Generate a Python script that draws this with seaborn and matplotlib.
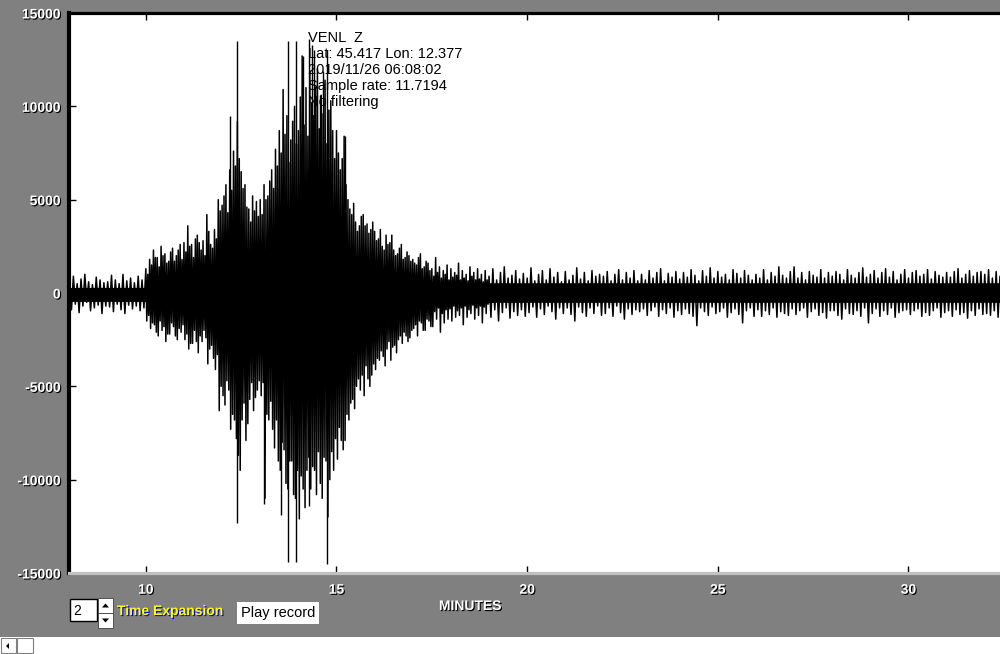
import numpy as np
import pandas as pd
import matplotlib
matplotlib.use("Agg")
import matplotlib.pyplot as plt
import matplotlib.patheffects as pe
from matplotlib.patches import Rectangle, Polygon
import seaborn as sns

# ---------------- data ----------------
station = "VENL  Z"
info_lines = ["Lat: 45.417 Lon: 12.377", "2019/11/26 06:08:02",
              "Sample rate: 11.7194", "No filtering"]

x_ticks = [10, 15, 20, 25, 30]
y_ticks = [-15000, -10000, -5000, 0, 5000, 10000, 15000]
y_tick_labels = ["-15000", "-10000", "-5000", "0", "5000", "10000", "15000"]

# dense core of the trace (minutes, counts)
core_t = [8.0, 9.95, 10.05, 10.5, 11.0, 11.5, 11.85, 12.0, 12.2, 12.45, 12.65, 13.0,
          13.4, 13.55, 13.8, 14.1, 14.4, 14.7, 14.95, 15.1, 15.4, 15.7, 16.0, 16.4,
          16.8, 17.2, 17.6, 18.0, 18.6, 19.2, 20.0, 32.5]
core_hi = [300, 300, 400, 600, 700, 800, 1200, 1800, 2200, 2400, 1700, 1600,
           2000, 3000, 3800, 4200, 4000, 3600, 2600, 2000, 1600, 1300, 1100, 900,
           750, 650, 600, 550, 550, 550, 550, 550]
core_lo = [-450, -450, -500, -700, -800, -900, -1300, -2000, -2500, -2700, -1900, -1800,
           -2200, -3500, -4500, -5000, -4700, -4200, -3000, -2300, -1800, -1500, -1200, -1000,
           -850, -700, -650, -600, -550, -500, -500, -500]

# upward / downward swings, one pair every 0.1 minute from 8.0 to 32.5
swing_up = [
    650, 900, 500, 750, 1000, 600, 450, 850, 700, 550,
    600, 950, 700, 500, 1000, 650, 800, 550, 900, 700,
    1300, 1800, 2300, 1900, 2500, 2100, 1700, 2400, 2000, 2600,
    2700, 3600, 2600, 2900, 2700, 2800, 4200, 2600, 3400, 5000,
    4700, 5800, 6600, 7600, 9200, 6500, 5800, 4500, 5200, 4900,
    5000, 5800, 5200, 6600, 7700, 8700, 10900, 9500, 8200, 10000,
    8700, 12700, 11000, 11900, 9500, 12000, 10600, 11400, 9800, 8700,
    8700, 6600, 8400, 5000, 4200, 3800, 3600, 4200, 3700, 3400,
    3300, 2900, 2500, 3100, 2700, 2300, 2100, 2600, 1900, 2000,
    1800, 1500, 2100, 1400, 1600, 1300, 1900, 1400, 1200, 1500,
    1300, 1100, 1600, 1200, 1000, 1400, 1100, 1300, 1000, 1200,
    900, 1300, 700, 1100, 1400, 800, 950, 1200, 750, 1050,
    800, 1350, 650, 1000, 1200, 700, 1300, 850, 1100, 600,
    1150, 700, 950, 1350, 750, 1100, 650, 1200, 900, 1000,
    900, 1150, 650, 1000, 1250, 700, 1100, 800, 1200, 650,
    1000, 700, 1200, 800, 1100, 1300, 650, 1050, 850, 1150,
    750, 1100, 850, 1250, 950, 650, 1200, 900, 1350, 800,
    1150, 850, 1000, 700, 1250, 1050, 800, 1200, 950, 700,
    1000, 800, 1250, 700, 1100, 900, 1400, 950, 800, 1150,
    1400, 800, 1100, 700, 1150, 950, 850, 1250, 800, 1100,
    900, 1150, 1000, 700, 1250, 950, 800, 1100, 1350, 850,
    1000, 1200, 800, 1100, 1300, 850, 1150, 700, 1000, 1250,
    800, 1100, 1200, 900, 1000, 1250, 750, 1150, 950, 850,
    1100, 850, 1150, 1300, 800, 1000, 1200, 900, 1100, 1150,
    1000, 1250, 800, 1150, 900, 1050]
swing_dn = [
    -900, -600, -1050, -700, -500, -950, -800, -650, -1100, -700,
    -750, -1000, -600, -900, -1100, -650, -850, -700, -950, -800,
    -1500, -1900, -1700, -2300, -2000, -2600, -2200, -1800, -2500, -2100,
    -2500, -3000, -2700, -2600, -2300, -2000, -3800, -2800, -4100, -6300,
    -5500, -4700, -7300, -6800, -8700, -6800, -7900, -5700, -6300, -5200,
    -5500, -11000, -6800, -7300, -6800, -9500, -8400, -10500, -9000, -11000,
    -12100, -10500, -9500, -10500, -9500, -8500, -11000, -9000, -10000, -9500,
    -8900, -7900, -7900, -6800, -5700, -5000, -5200, -5500, -4600, -4400,
    -4100, -3600, -3400, -3000, -3600, -2800, -2500, -2700, -2300, -2400,
    -1900, -2300, -1600, -2000, -1500, -1800, -1400, -2100, -1600, -1400,
    -1500, -1300, -1200, -1700, -1300, -1100, -1400, -1200, -1600, -1100,
    -1300, -900, -1500, -1050, -800, -1350, -1000, -1200, -900, -1250,
    -1050, -750, -1300, -850, -1150, -700, -1000, -1400, -800, -1100,
    -800, -1150, -1500, -750, -1050, -1250, -800, -1100, -700, -1200,
    -1100, -800, -1250, -700, -1050, -1400, -850, -1150, -900, -1000,
    -850, -1200, -950, -750, -1250, -900, -1100, -800, -1300, -950,
    -1150, -850, -1100, -1250, -1750, -800, -1000, -1200, -750, -1100,
    -1000, -800, -1300, -1050, -850, -1150, -1600, -950, -800, -1250,
    -900, -1250, -950, -1150, -800, -1300, -1000, -1100, -1200, -850,
    -1150, -950, -800, -1300, -1000, -850, -1200, -1050, -1350, -950,
    -950, -1200, -1400, -850, -1100, -1150, -950, -1250, -800, -1600,
    -1100, -850, -1250, -950, -1150, -800, -1300, -1050, -950, -900,
    -1150, -950, -850, -1250, -1050, -1200, -950, -800, -1300, -1050,
    -950, -1250, -900, -1150, -1050, -1350, -950, -1200, -850, -1150,
    -1100, -1200, -950, -1300, -1000, -1150]

# extra swings during the burst (10.0 - 18.9 min), half a step later
burst_up = [
    1000, 1500, 1900, 1400, 2000, 1600, 2200, 1700, 2300, 1800,
    2200, 2500, 1900, 3100, 2300, 2000, 3300, 2400, 2900, 4400,
    5200, 4300, 5500, 6800, 7200, 5600, 4600, 3800, 4400, 4100,
    4200, 5000, 6000, 5600, 6800, 7500, 8500, 7000, 9200, 8000,
    10500, 9000, 8400, 10200, 11000, 8800, 9600, 8000, 10300, 7200,
    7500, 7200, 5800, 4500, 4800, 3300, 4100, 3600, 3200, 3800,
    2800, 3400, 2300, 2600, 3100, 2000, 2400, 1800, 2200, 1700,
    1600, 1900, 1300, 1700, 1200, 900, 1100, 800, 1000, 700,
    850, 950, 700, 800, 650, 900, 700, 750, 600, 700]
burst_dn = [
    -1200, -1600, -2100, -1500, -1800, -2200, -1600, -2300, -1900, -1700,
    -2200, -2700, -2000, -3200, -2600, -2400, -3000, -3500, -3300, -5000,
    -6000, -5200, -6500, -7800, -9500, -5900, -7000, -4800, -5600, -4700,
    -4800, -6500, -5800, -8300, -9000, -8000, -10200, -9000, -10800, -9500,
    -9800, -11500, -8800, -9300, -10800, -10200, -8800, -12000, -8500, -7800,
    -7200, -8400, -6500, -5900, -6200, -4600, -4400, -3900, -5000, -3800,
    -3500, -3100, -3900, -2600, -2900, -3200, -2300, -2100, -2600, -2000,
    -1700, -1500, -2000, -1400, -1800, -1000, -800, -1100, -900, -850,
    -700, -950, -800, -700, -900, -650, -800, -700, -750, -600]

# the tallest individual spikes
spike_t = [12.22, 12.39, 12.39, 13.10, 13.54, 13.73, 13.73, 13.94, 13.94,
           14.12, 14.28, 14.28, 14.35, 14.42, 14.57, 14.65, 14.75, 14.75, 15.22]
spike_v = [9500, 13500, -12300, -11300, -11900, 13500, -14400, 13500, -14400,
           12700, 13600, -11400, 13300, 13000, 10600, 11900, 13000, -14500, 8400]

# ---------------- figure ----------------
W, H = 1000, 654
GREY = "#808080"
sns.set_theme(style="white")
plt.rcParams["font.family"] = ["Liberation Sans", "DejaVu Sans"]

fig = plt.figure(figsize=(W / 100, H / 100), dpi=100, facecolor=GREY)
ax = fig.add_axes([69 / W, 1 - 573 / H, (W - 69) / W, (573 - 13) / H])
ax.set_facecolor("white")

def fx(x):
    return x / W

def fy(y):
    return 1 - y / H

# trace: sequence of swings ordered in time
t_main = 8.0 + 0.1 * np.arange(len(swing_up))
t_burst = 10.0 + 0.1 * np.arange(len(burst_up))
parts = [
    pd.DataFrame({"minutes": t_main, "counts": swing_up}),
    pd.DataFrame({"minutes": t_main + 0.025, "counts": swing_dn}),
    pd.DataFrame({"minutes": t_burst + 0.05, "counts": burst_up}),
    pd.DataFrame({"minutes": t_burst + 0.075, "counts": burst_dn}),
]
trace = pd.concat(parts).sort_values("minutes").reset_index(drop=True)
quiet = ~((trace["minutes"] >= 10.0) & (trace["minutes"] < 19.0))
# outside the burst, space the two swings evenly
trace.loc[quiet & (trace["counts"] < 0), "minutes"] += 0.025

ax.fill_between(core_t, core_lo, core_hi, color="black", lw=0, zorder=2)
sns.lineplot(data=trace, x="minutes", y="counts", sort=False, estimator=None,
             color="black", lw=1.1, ax=ax, zorder=3)
ax.vlines(spike_t, 0, spike_v, color="black", lw=1.0, zorder=3)

ax.set_xlim(7.985, 32.4)
ax.set_ylim(-15000, 15000)
ax.set_xlabel("")
ax.set_ylabel("")

# spines
ax.spines["right"].set_visible(False)
ax.spines["top"].set_color("black")
ax.spines["top"].set_linewidth(2.3)
ax.spines["left"].set_color("black")
ax.spines["left"].set_linewidth(3.0)
ax.spines["bottom"].set_color("#c0c0c0")
ax.spines["bottom"].set_linewidth(2.3)

shadow = [pe.withSimplePatchShadow(offset=(0.8, -0.8), shadow_rgbFace="black", alpha=1.0)]

ax.set_xticks(x_ticks)
ax.set_xticklabels([str(v) for v in x_ticks])
ax.set_yticks(y_ticks)
ax.set_yticklabels(y_tick_labels)
ax.xaxis.set_ticks_position("both")
ax.yaxis.set_ticks_position("left")
ax.tick_params(axis="both", direction="in", length=5, width=1, color="black",
               labelcolor="white", labelsize=10)
ax.tick_params(axis="x", pad=7)
ax.tick_params(axis="y", pad=6)
for lab in ax.get_xticklabels() + ax.get_yticklabels():
    lab.set_fontweight("bold")
    lab.set_path_effects(shadow)
ax.grid(False)

# info text
fig.text(fx(308), fy(38), station, fontsize=10.5, color="black", va="center", ha="left", zorder=10)
for i, line in enumerate(info_lines):
    fig.text(fx(308), fy(54 + 16 * i), line, fontsize=10.5, color="black",
             va="center", ha="left", zorder=10)

# x axis title
fig.text(fx(470), fy(606), "MINUTES", fontsize=10, fontweight="bold", color="white",
         ha="center", va="center", path_effects=shadow)

# controls
fig.patches.append(Rectangle((fx(70), fy(621)), fx(27), 22 / H, transform=fig.transFigure,
                             facecolor="white", edgecolor="black", lw=1))
fig.text(fx(73), fy(611), "2", fontsize=10, color="black", ha="left", va="center")
for (top, up) in [(598, True), (613, False)]:
    fig.patches.append(Rectangle((fx(98), fy(top + 15)), fx(15), 15 / H, transform=fig.transFigure,
                                 facecolor="white", edgecolor="#404040", lw=0.6))
    cx, cy = 105.5, top + 7.5
    if up:
        pts = [(cx - 3.5, cy + 2), (cx + 3.5, cy + 2), (cx, cy - 2)]
    else:
        pts = [(cx - 3.5, cy - 2), (cx + 3.5, cy - 2), (cx, cy + 2)]
    fig.patches.append(Polygon([(fx(a), fy(b)) for a, b in pts], closed=True,
                               transform=fig.transFigure, facecolor="black", edgecolor="none"))
fig.text(fx(117), fy(611), "Time Expansion", fontsize=10, fontweight="bold", color="#ffff00",
         ha="left", va="center",
         path_effects=[pe.withSimplePatchShadow(offset=(0.8, -0.8), shadow_rgbFace="#0000ff", alpha=1.0)])
fig.patches.append(Rectangle((fx(237), fy(624)), fx(82), 22 / H, transform=fig.transFigure,
                             facecolor="white", edgecolor="none"))
fig.text(fx(278), fy(613), "Play record", fontsize=10.5, color="black", ha="center", va="center")

# bottom strip with scroll buttons
fig.patches.append(Rectangle((0, 0), 1, 17 / H, transform=fig.transFigure,
                             facecolor="white", edgecolor="none"))
fig.patches.append(Rectangle((fx(1), fy(653)), fx(15), 15 / H, transform=fig.transFigure,
                             facecolor="white", edgecolor="#808080", lw=0.8))
fig.patches.append(Rectangle((fx(17), fy(653)), fx(16), 15 / H, transform=fig.transFigure,
                             facecolor="white", edgecolor="#808080", lw=0.8))
fig.patches.append(Polygon([(fx(6), fy(646)), (fx(9), fy(643)), (fx(9), fy(649))], closed=True,
                           transform=fig.transFigure, facecolor="black", edgecolor="none"))

fig.savefig("out.png", dpi=100, facecolor=GREY)
